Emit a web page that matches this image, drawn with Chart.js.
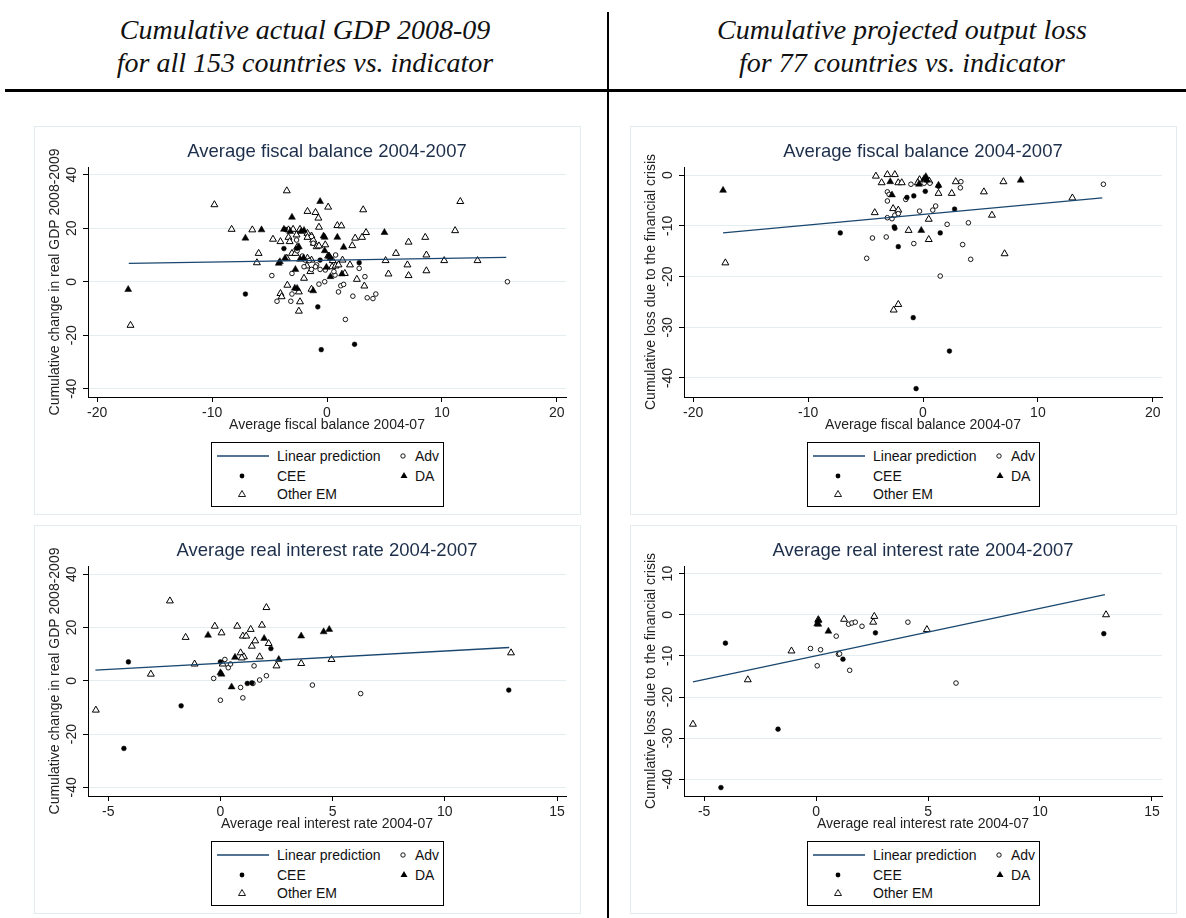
<!DOCTYPE html>
<html>
<head>
<meta charset="utf-8">
<script src="https://cdn.jsdelivr.net/npm/chart.js@4.4.1/dist/chart.umd.min.js"></script>
<style>
body{margin:0;width:1186px;height:918px;background:#fff;position:relative;overflow:hidden;font-family:'Liberation Sans',Arial,sans-serif}
.head{position:absolute;top:13px;width:590px;text-align:center;font:italic 28px/33px 'Liberation Serif',serif;color:#111}
#rule{position:absolute;left:5px;right:0;top:89px;height:3px;background:#000}
#divider{position:absolute;left:607px;top:12px;width:2px;bottom:0;background:#000}
.frame{position:absolute;width:545px;height:387px;border:1px solid #e3ebee}
.panel{position:absolute}
.legend{position:absolute;width:231px;height:63px;border:1px solid #000;font-size:14px;color:#111;background:#fff}
.legend span{position:absolute;line-height:16px;white-space:nowrap}
.legend svg{position:absolute}
</style>
</head>
<body>
<div class="head" style="left:10px">Cumulative actual GDP 2008-09<br>for all 153 countries vs. indicator</div>
<div class="head" style="left:607px">Cumulative projected output loss<br>for 77 countries vs. indicator</div>
<div id="rule"></div>
<div id="divider"></div>

<div class="frame" style="left:34px;top:126px"></div>
<div class="frame" style="left:630px;top:126px"></div>
<div class="frame" style="left:34px;top:525px"></div>
<div class="frame" style="left:630px;top:525px"></div>

<canvas id="c1" class="panel" width="546" height="310" style="left:34px;top:126px"></canvas>
<canvas id="c2" class="panel" width="546" height="310" style="left:630px;top:126px"></canvas>
<canvas id="c3" class="panel" width="546" height="310" style="left:34px;top:525px"></canvas>
<canvas id="c4" class="panel" width="546" height="310" style="left:630px;top:525px"></canvas>

<script>
// ---- fiscal balance vs cumulative GDP change (153 countries)
const fbGdpAdv = [[-4.8,2.3],[-3.05,3.1],[-3.05,-4.6],[-3.15,-7.3],[-4.35,-7.3],[-0.7,-0.9],[-0.2,0],[1.0,-3.8],[1.2,-1.5],[1.45,-1.0],[1.6,-14.1],[2.25,-5.4],[2.8,5],[3.3,1.9],[3.5,-6],[4.0,-6.3],[4.25,-4.6],[15.7,0],[-2.0,5.6],[-1.35,4.6],[-0.9,6.3],[-1.0,5.6],[-0.6,4.6],[-0.15,4.4],[0.7,2.5],[0.6,3.8],[0.75,10],[-1.35,16.9],[-2.15,9.6],[-1.9,8.1],[-2.6,11.6],[-1.55,7.9],[-1.2,14.4],[-2.65,15.6]];
const fbGdpCee = [[-7.1,-4.6],[-3.75,12.4],[-0.8,-9.4],[-0.6,8.1],[-0.5,-25.4],[2.4,-23.4],[2.8,7.1],[0.15,9.6],[-3.65,19.6],[-2.6,12.5]];
const fbGdpDa = [[-17.3,-2.9],[-7.1,16.3],[-5.7,19.4],[-3.05,24.1],[-3.75,19.6],[-3.2,18.8],[-0.6,30],[-0.3,17.1],[-0.2,16.6],[0.9,16.6],[5.0,18.4],[1.45,12.9],[-0.2,11.6],[-4.1,7.5],[-4.2,6.9],[-2.45,13.1],[-2.35,8.4],[-2.75,4.6],[-2.6,-2.5],[-2.8,-2.4],[-1.2,-3.4],[-0.05,5.4],[0.3,1.9],[1.3,2.9],[0.3,8.8],[0.2,9.6],[-3.65,8.8],[-2.05,8.8],[-2.25,18.8],[-2.0,19.2]];
const fbGdpOther = [[-17.1,-16.3],[-9.8,28.8],[-8.3,19.6],[-6.5,19.4],[-5.95,10.6],[-6.1,7.1],[-4.7,15.9],[-3.5,34],[-4.05,15],[-3.35,16.6],[-3.35,19.4],[-2.95,19.6],[-2.35,19.6],[-3.05,10.6],[-3.5,8.8],[-1.7,26.3],[-1.0,25.9],[-0.75,23.8],[-0.7,20.4],[0.1,27.9],[0.9,21],[1.25,20.9],[3.15,26.9],[3.4,18.4],[3.05,16.6],[2.45,16.3],[2.2,13.5],[6.0,10.6],[5.1,7.9],[5.35,2.9],[7.1,14.8],[7.0,6.3],[7.1,2.3],[8.55,16.6],[8.65,10],[8.65,4.1],[10.2,7.9],[11.15,19.1],[11.6,30],[13.1,7.9],[2.6,0.9],[3.25,-1.6],[-2.0,1.3],[-2.45,-3.8],[-3.45,-1.3],[-4.05,-4.4],[-3.95,-5.6],[-2.35,-7.5],[-2.45,-11],[-1.35,-2.8],[-1.45,3.8],[-1.75,5.9],[-1.35,8.1],[-1.7,8.8],[-1.15,14.4],[-0.9,13.1],[-0.7,13.4],[-1.35,17.1],[-1.7,18.1],[-0.15,13.8],[0.1,9.6],[0.45,5.6],[0.5,7.9],[0.75,5.9],[1.0,6.3],[1.35,8.1],[1.55,3.1],[2.0,6.3],[-2.75,10.6],[-2.6,12.9],[-3.25,15],[-2.65,17.5],[-1.7,16.6],[-1.2,15.6]];
const fbGdpFit = [[-17.25,6.9],[15.6,9.1]];

// ---- fiscal balance vs projected output loss (77 countries)
const fbLossAdv = [[15.7,-1.8],[-4.9,-16.4],[-4.4,-12.4],[-3.2,-12.2],[-3.1,-3.3],[-3.1,-5.1],[-2.95,-3.8],[-3.1,-8.4],[-2.7,-8.6],[-2.45,-7.9],[-2.15,-7.6],[-1.5,-4.8],[-1.05,-1.8],[-0.8,-13.5],[-0.3,-7.1],[0.85,-6.9],[1.1,-6.1],[1.5,-19.9],[2.1,-9.7],[3.45,-13.7],[3.25,-2.5],[3.3,-1.3],[3.95,-9.4],[4.15,-16.6],[0.6,-1.6],[0.1,-1.6]];
const fbLossCee = [[-7.2,-11.4],[-2.15,-14.1],[-2.45,-10.5],[-1.4,-4.4],[-0.8,-4.1],[0.2,-3.2],[2.75,-6.7],[1.5,-11.4],[-0.85,-28.1],[2.3,-34.7],[-0.6,-42.1],[-2.5,-10.2],[1.35,-2.2]];
const fbLossDa = [[-17.4,-3.0],[-2.85,-1.3],[-2.7,-3.9],[0.25,-0.3],[0.35,-1.0],[-0.35,-1.8],[1.35,-2.0],[8.5,-1.0],[-0.15,-10.9],[0.1,-0.7]];
const fbLossOther = [[-17.2,-17.3],[-4.1,-0.2],[-3.1,0.1],[-2.45,0.1],[-3.6,-1.5],[-2.15,-1.5],[-1.85,-1.5],[-4.2,-7.4],[-2.6,-6.6],[-2.15,-6.9],[-1.25,-10.9],[0.5,-12.7],[0.5,-8.7],[1.35,-3.6],[2.5,-3.6],[2.85,-1.3],[5.3,-3.3],[6.0,-7.9],[7.0,-1.3],[7.1,-15.5],[13.0,-4.5],[-2.15,-25.5],[-2.55,-26.6],[-0.3,-0.9],[0.55,-1.2],[-0.45,-1.5]];
const fbLossFit = [[-17.4,-11.4],[15.6,-4.5]];

// ---- real interest rate vs cumulative GDP change
const irGdpAdv = [[-0.3,0.9],[0,-7.3],[0.2,8],[0.35,4.9],[0.45,6.3],[0.9,-2.5],[1.0,-6.4],[1.5,5.6],[1.75,0.3],[2.05,1.9],[4.1,-1.6],[6.25,-4.8],[1.45,-1]];
const irGdpCee = [[-4.1,7.1],[-4.3,-25.4],[-1.75,-9.4],[0,7.1],[1.2,-1],[2.25,12.1],[12.85,-3.5],[1.4,-0.8]];
const irGdpDa = [[-0.55,17.1],[0.05,2.5],[0,3],[0.5,-2.3],[0.65,8.8],[1.95,15.9],[3.6,16.8],[4.6,18.4],[4.85,19.3],[2.6,8]];
const irGdpOther = [[-5.55,-11],[-3.1,2.5],[-2.25,30],[-1.55,16.3],[-1.15,6.3],[-0.25,20.5],[0.05,18],[0.1,6.3],[0.75,20.5],[0.9,10.5],[1.0,16.8],[1.15,16.8],[1.05,9],[1.35,19.3],[1.4,13],[1.55,15],[1.75,9],[1.85,20.9],[2.05,27.5],[2.15,14],[2.5,5.6],[3.6,6.5],[4.95,8],[12.95,10.5],[0.95,8.6]];
const irGdpFit = [[-5.57,4.0],[12.87,12.5]];

// ---- real interest rate vs projected output loss
const irLossAdv = [[-0.25,-8.2],[0.05,-12.4],[0.2,-8.5],[0.9,-5.2],[1.0,-9.6],[1.5,-13.5],[1.45,-2.3],[1.6,-2.0],[1.75,-1.8],[2.05,-2.8],[4.1,-1.8],[6.25,-16.6],[1.05,-9.5]];
const irLossCee = [[-4.05,-6.9],[-4.25,-42],[-1.7,-27.8],[1.2,-10.8],[2.65,-4.4],[12.85,-4.6]];
const irLossDa = [[0.1,-1.4],[0.1,-2.3],[0.05,-2.2],[0.55,-4.0]];
const irLossOther = [[-5.5,-26.6],[-3.05,-15.8],[-1.1,-8.8],[1.25,-1.1],[2.6,-0.4],[2.55,-1.8],[4.95,-3.6],[12.95,0],[0.1,-1.2]];
const irLossFit = [[-5.5,-16.3],[12.9,4.9]];

const fbTicks = [-20, -10, 0, 10, 20];
const irTicks = [-5, 0, 5, 10, 15];
const gdpTicks = [-40, -20, 0, 20, 40];
const lossTicks = [-40, -30, -20, -10, 0];
const lossTicks2 = [-40, -30, -20, -10, 0, 10];

const gdpLabel = 'Cumulative change in real GDP 2008-2009';
const lossLabel = 'Cumulative loss due to the financial crisis';
const FONT = "'Liberation Sans', Arial, sans-serif";

const pts = a => a.map(([x, y]) => ({x, y}));

// title over the plot area and vertical y tick labels, Stata style
const panelText = {
    id: 'panelText',
    afterDraw(chart, args, opts) {
        const ctx = chart.ctx, a = chart.chartArea, y = chart.scales.y;
        ctx.save();
        ctx.textAlign = 'center';
        ctx.textBaseline = 'middle';
        ctx.fillStyle = '#1c2e4a';
        ctx.font = '18.5px ' + FONT;
        ctx.fillText(opts.title, (a.left + a.right) / 2, a.top - 15);
        ctx.fillStyle = '#222';
        ctx.font = '14px ' + FONT;
        y.ticks.forEach(t => {
            ctx.save();
            ctx.translate(a.left - 16, y.getPixelForValue(t.value));
            ctx.rotate(-Math.PI / 2);
            ctx.fillText(String(t.value), 0, 0);
            ctx.restore();
        });
        ctx.restore();
    }
};

function makePanel(id, p) {
    new Chart(document.getElementById(id), {
        type: 'scatter',
        data: {
            datasets: [
                {label: 'Linear prediction', data: pts(p.fit), showLine: true, borderColor: '#1a476f', borderWidth: 1.3, pointRadius: 0},
                {label: 'CEE', data: pts(p.cee), pointStyle: 'circle', pointRadius: 2.4, backgroundColor: '#000', borderColor: '#000', borderWidth: 0.5},
                {label: 'DA', data: pts(p.da), pointStyle: 'triangle', pointRadius: 4, backgroundColor: '#000', borderColor: '#000', borderWidth: 0.5},
                {label: 'Adv', data: pts(p.adv), pointStyle: 'circle', pointRadius: 2.3, backgroundColor: '#fff', borderColor: '#000', borderWidth: 0.9},
                {label: 'Other EM', data: pts(p.other), pointStyle: 'triangle', pointRadius: 4, backgroundColor: '#fff', borderColor: '#000', borderWidth: 1}
            ]
        },
        options: {
            responsive: false,
            animation: false,
            events: [],
            layout: {padding: {top: 41, left: 0, right: 14, bottom: 2}},
            plugins: {
                legend: {display: false},
                tooltip: {enabled: false},
                panelText: {title: p.title}
            },
            scales: {
                x: {
                    type: 'linear', min: p.xMin, max: p.xMax,
                    afterFit: s => { s.height = 37; },
                    afterBuildTicks: s => { s.ticks = p.xTicks.map(v => ({value: v})); },
                    ticks: {font: {size: 14, family: FONT}, color: '#222', padding: 3, maxRotation: 0},
                    grid: {drawOnChartArea: false, tickLength: 5, tickColor: '#000'},
                    border: {color: '#000'},
                    title: {display: true, text: p.xTitle, font: {size: 14, family: FONT}, color: '#222', padding: 0}
                },
                y: {
                    type: 'linear', min: p.yMin, max: p.yMax,
                    afterFit: s => { s.width = 54; },
                    afterBuildTicks: s => { s.ticks = p.yTicks.map(v => ({value: v})); },
                    ticks: {display: false},
                    grid: {color: '#e4edef', tickLength: 5, tickColor: '#000'},
                    border: {color: '#000'},
                    title: {display: true, text: p.yTitle, font: {size: 14, family: FONT}, color: '#222', padding: {top: 12.6, bottom: 0}}
                }
            }
        },
        plugins: [panelText]
    });
}

makePanel('c1', {title: 'Average fiscal balance 2004-2007', xTitle: 'Average fiscal balance 2004-07', yTitle: gdpLabel,
    xMin: -20.8, xMax: 20.8, yMin: -43.1, yMax: 42.9, xTicks: fbTicks, yTicks: gdpTicks,
    adv: fbGdpAdv, cee: fbGdpCee, da: fbGdpDa, other: fbGdpOther, fit: fbGdpFit});
makePanel('c2', {title: 'Average fiscal balance 2004-2007', xTitle: 'Average fiscal balance 2004-07', yTitle: lossLabel,
    xMin: -20.8, xMax: 20.8, yMin: -43.75, yMax: 1.6, xTicks: fbTicks, yTicks: lossTicks,
    adv: fbLossAdv, cee: fbLossCee, da: fbLossDa, other: fbLossOther, fit: fbLossFit});
makePanel('c3', {title: 'Average real interest rate 2004-2007', xTitle: 'Average real interest rate 2004-07', yTitle: gdpLabel,
    xMin: -5.9, xMax: 15.4, yMin: -43.25, yMax: 43.1, xTicks: irTicks, yTicks: gdpTicks,
    adv: irGdpAdv, cee: irGdpCee, da: irGdpDa, other: irGdpOther, fit: irGdpFit});
makePanel('c4', {title: 'Average real interest rate 2004-2007', xTitle: 'Average real interest rate 2004-07', yTitle: lossLabel,
    xMin: -5.9, xMax: 15.45, yMin: -44.05, yMax: 11.85, xTicks: irTicks, yTicks: lossTicks2,
    adv: irLossAdv, cee: irLossCee, da: irLossDa, other: irLossOther, fit: irLossFit});

// legends (same for all four panels)
const legendSpots = [[211, 442], [807, 442], [211, 841], [807, 841]];
const legendHtml =
    '<svg width="52" height="4" style="left:5px;top:11px"><line x1="0" y1="2" x2="52" y2="2" stroke="#1a476f" stroke-width="1.3"/></svg>' +
    '<span style="left:65px;top:5px">Linear prediction</span>' +
    '<svg width="8" height="8" style="left:187px;top:9px"><circle cx="4" cy="4" r="2.2" fill="#fff" stroke="#000" stroke-width="0.9"/></svg>' +
    '<span style="left:203px;top:5px">Adv</span>' +
    '<svg width="8" height="8" style="left:26px;top:29px"><circle cx="4" cy="4" r="2.4" fill="#000"/></svg>' +
    '<span style="left:65px;top:25px">CEE</span>' +
    '<svg width="10" height="10" style="left:187px;top:28px"><polygon points="5,1 8.5,7 1.5,7" fill="#000"/></svg>' +
    '<span style="left:203px;top:25px">DA</span>' +
    '<svg width="10" height="10" style="left:25px;top:46px"><polygon points="5,1.5 8.5,7.5 1.5,7.5" fill="#fff" stroke="#000" stroke-width="0.9"/></svg>' +
    '<span style="left:65px;top:43px">Other EM</span>';
legendSpots.forEach(([l, t]) => {
    const d = document.createElement('div');
    d.className = 'legend';
    d.style.left = l + 'px';
    d.style.top = t + 'px';
    d.innerHTML = legendHtml;
    document.body.appendChild(d);
});
</script>
</body>
</html>
